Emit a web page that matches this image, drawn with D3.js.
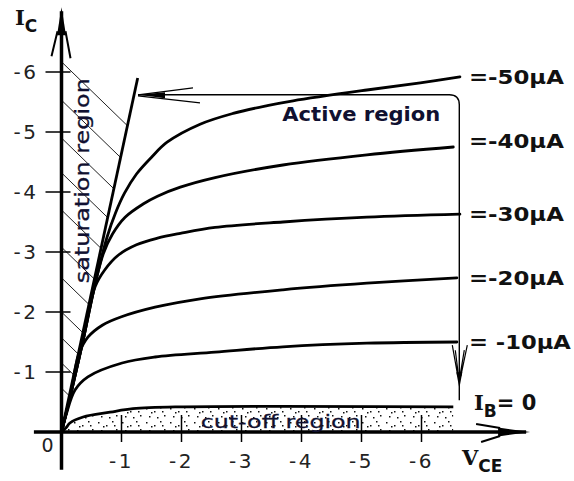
<!DOCTYPE html>
<html>
<head>
<meta charset="utf-8">
<script src="https://cdn.jsdelivr.net/npm/d3@7"></script>
<style>
  body { margin: 0; background: #fff; }
  svg { display: block; font-family: "DejaVu Sans", Verdana, sans-serif; }
</style>
</head>
<body>
<svg id="chart"></svg>
<script>
// PNP transistor output characteristics, IC (mA) against VCE (V)
const vceTicks = [-1, -2, -3, -4, -5, -6];
const icTicks = [-1, -2, -3, -4, -5, -6];

// one curve per base current, points are [VCE, IC]
const ib50 = [[0, 0], [-0.14, -0.57], [-0.36, -1.53], [-0.575, -2.53], [-0.76, -3.25], [-0.9, -3.65],
  [-1.05, -3.98], [-1.25, -4.3], [-1.5, -4.58], [-1.76, -4.83], [-2.31, -5.13], [-2.86, -5.31],
  [-3.43, -5.44], [-3.86, -5.52], [-5.09, -5.7], [-5.98, -5.82], [-6.64, -5.92]];
const ib40 = [[0, 0], [-0.14, -0.57], [-0.36, -1.53], [-0.575, -2.53], [-0.7, -2.98], [-0.85, -3.3],
  [-1.06, -3.58], [-1.36, -3.8], [-1.6, -3.93], [-1.98, -4.08], [-2.56, -4.24], [-3.69, -4.45],
  [-5.09, -4.62], [-6.53, -4.75]];
const ib30 = [[0, 0], [-0.14, -0.57], [-0.36, -1.53], [-0.56, -2.42], [-0.72, -2.7], [-0.95, -2.95],
  [-1.25, -3.12], [-1.6, -3.23], [-1.98, -3.31], [-2.56, -3.41], [-3.69, -3.5], [-5.09, -3.58], [-6.64, -3.63]];
const ib20 = [[0, 0], [-0.14, -0.57], [-0.29, -1.3], [-0.44, -1.58], [-0.68, -1.78], [-1.0, -1.92],
  [-1.56, -2.08], [-2.31, -2.22], [-3.69, -2.37], [-5.09, -2.48], [-6.59, -2.57]];
const ib10 = [[0, 0], [-0.075, -0.28], [-0.225, -0.7], [-0.44, -0.92], [-1.01, -1.15], [-1.56, -1.25],
  [-2.56, -1.33], [-3.69, -1.42], [-5.09, -1.48], [-6.59, -1.5]];
const ib0 = [[0, 0], [-0.075, -0.07], [-0.14, -0.15], [-0.36, -0.25], [-0.81, -0.33], [-1.19, -0.39],
  [-2.03, -0.42], [-6.53, -0.42]];
const ibCurves = [ib50, ib40, ib30, ib20, ib10];
const ibNames = ["=-50\u00b5A", "=-40\u00b5A", "=-30\u00b5A", "=-20\u00b5A", "= -10\u00b5A"];

// saturation boundary and the IC values where its hatching starts on the axis
const saturation = [[0, 0], [-1.27, -5.9]];
const hatchStarts = [-6.17, -5.53, -4.9, -4.32, -3.7, -3.08, -2.57, -2.0, -1.57, -1.15, -0.73];

const width = 574;
const height = 481;

const svg = d3.select("#chart")
  .attr("width", width)
  .attr("height", height);

svg.append("rect").attr("width", width).attr("height", height).attr("fill", "#fff");

const x = d3.scaleLinear().domain([0, -7]).range([61.5, 481.5]);
const y = d3.scaleLinear().domain([0, -7]).range([432, 12]);

const line = d3.line()
  .x(d => x(d[0]))
  .y(d => y(d[1]))
  .curve(d3.curveCatmullRom.alpha(0.5));

// stipple for the cut-off region
const defs = svg.append("defs");
const dots = defs.append("pattern")
  .attr("id", "stipple")
  .attr("patternUnits", "userSpaceOnUse")
  .attr("width", 24).attr("height", 14);
[[2, 2], [10, 5], [16, 1], [20, 9], [5, 10], [13, 11], [7, 6], [18, 5]].forEach(p => {
  dots.append("rect").attr("x", p[0]).attr("y", p[1])
    .attr("width", 1.5).attr("height", 1.5).attr("fill", "#111");
});

const area = d3.area()
  .x(d => x(d[0]))
  .y0(y(0))
  .y1(d => y(d[1]))
  .curve(d3.curveCatmullRom.alpha(0.5));

svg.append("path")
  .datum(ib0)
  .attr("d", area)
  .attr("fill", "url(#stipple)");

// hatching between the IC axis and the saturation line
const satSlope = saturation[1][1] / saturation[1][0];
const hatchSlope = 0.97;
svg.append("g")
  .selectAll("line")
  .data(hatchStarts)
  .enter().append("line")
  .attr("x1", x(0))
  .attr("y1", d => y(d))
  .attr("x2", d => x(d / (satSlope + hatchSlope)))
  .attr("y2", d => y(d - hatchSlope * d / (satSlope + hatchSlope)))
  .attr("stroke", "#222")
  .attr("stroke-width", 1);

// axes
const axisColor = "#000";
const vLo = 0.46, vHi = -7.81, iLo = 0.63, iHi = -7.08;

svg.append("line")
  .attr("x1", x(vLo)).attr("y1", y(0))
  .attr("x2", x(vHi) - 4).attr("y2", y(0))
  .attr("stroke", axisColor).attr("stroke-width", 3.5);
svg.append("line")
  .attr("x1", x(0)).attr("y1", y(iLo))
  .attr("x2", x(0)).attr("y2", y(iHi) + 4)
  .attr("stroke", axisColor).attr("stroke-width", 3.5);

// arrow heads of the axes
const ax = x(vHi), ay = y(0);
svg.append("path")
  .attr("d", `M${ax},${ay}L${ax - 32},${ay - 4.5}L${ax - 32},${ay + 4.5}Z`)
  .attr("fill", axisColor);
svg.append("path")
  .attr("d", `M${ax - 30},${ay - 4}L${ax - 54},${ay - 8}M${ax - 30},${ay + 4}L${ax - 49},${ay + 10}`)
  .attr("stroke", axisColor).attr("stroke-width", 2).attr("fill", "none");

const bx = x(0), by = y(iHi);
svg.append("path")
  .attr("d", `M${bx},${by}L${bx - 4.5},${by + 28}L${bx + 4.5},${by + 28}Z`)
  .attr("fill", axisColor);
svg.append("path")
  .attr("d", `M${bx - 4},${by + 24}L${bx - 10},${by + 49}M${bx + 4},${by + 24}L${bx + 9},${by + 51}`)
  .attr("stroke", axisColor).attr("stroke-width", 2).attr("fill", "none");

// ticks
svg.append("g")
  .selectAll("line")
  .data(icTicks)
  .enter().append("line")
  .attr("x1", x(0) - 16).attr("x2", x(0) + 9)
  .attr("y1", d => y(d)).attr("y2", d => y(d))
  .attr("stroke", axisColor).attr("stroke-width", 1.5);

svg.append("g")
  .selectAll("line")
  .data(vceTicks)
  .enter().append("line")
  .attr("x1", d => x(d)).attr("x2", d => x(d))
  .attr("y1", y(0) - 17).attr("y2", y(0) + 10)
  .attr("stroke", axisColor).attr("stroke-width", 1.5);

const tickFmt = d => "-" + Math.abs(d);

svg.append("g")
  .selectAll("text")
  .data(icTicks)
  .enter().append("text")
  .attr("x", x(0) - 23)
  .attr("y", d => y(d))
  .attr("dy", "0.36em")
  .attr("text-anchor", "end")
  .attr("font-size", 20)
  .attr("fill", "#222")
  .attr("letter-spacing", 2.5)
  .text(tickFmt);

svg.append("g")
  .selectAll("text")
  .data(vceTicks)
  .enter().append("text")
  .attr("x", d => x(d))
  .attr("y", y(0) + 29)
  .attr("dy", "0.36em")
  .attr("text-anchor", "middle")
  .attr("font-size", 20)
  .attr("fill", "#222")
  .attr("letter-spacing", 2.5)
  .text(tickFmt);

svg.append("text")
  .attr("x", x(0) - 8).attr("y", y(0) + 13)
  .attr("dy", "0.36em")
  .attr("text-anchor", "end")
  .attr("font-size", 19)
  .attr("fill", "#222")
  .text("0");

// cut-off boundary
svg.append("path")
  .datum(ib0)
  .attr("d", line)
  .attr("fill", "none")
  .attr("stroke", "#000")
  .attr("stroke-width", 2.8);

svg.append("text")
  .attr("x", x(-2.32)).attr("y", y(-0.18))
  .attr("dy", "0.36em")
  .attr("font-size", 18)
  .attr("fill", "#101030")
  .attr("stroke", "#101030")
  .attr("stroke-width", 0.3)
  .attr("textLength", 160)
  .attr("lengthAdjust", "spacingAndGlyphs")
  .text("cut-off region");

// saturation line
svg.append("path")
  .datum(saturation)
  .attr("d", d3.line().x(d => x(d[0])).y(d => y(d[1])))
  .attr("stroke", "#000")
  .attr("stroke-width", 2.8);

svg.append("text")
  .attr("transform", `translate(${x(-0.35)},${y(-2.48)}) rotate(-90)`)
  .attr("dy", "0.36em")
  .attr("font-size", 19)
  .attr("fill", "#101030")
  .attr("stroke", "#101030")
  .attr("stroke-width", 0.3)
  .attr("textLength", 205)
  .attr("lengthAdjust", "spacingAndGlyphs")
  .text("saturation region");

// IB curves
svg.append("g")
  .selectAll("path")
  .data(ibCurves)
  .enter().append("path")
  .attr("d", line)
  .attr("fill", "none")
  .attr("stroke", "#000")
  .attr("stroke-width", 2.8)
  .attr("stroke-linecap", "round");

svg.append("g")
  .selectAll("text")
  .data(ibCurves)
  .enter().append("text")
  .attr("x", x(-6.79))
  .attr("y", (d, i) => y(d[d.length - 1][1]) - (i === 1 ? 6 : 0))
  .attr("dy", "0.36em")
  .attr("font-size", 20)
  .attr("font-weight", "bold")
  .attr("fill", "#111")
  .attr("textLength", (d, i) => i === 4 ? 102 : 95)
  .attr("lengthAdjust", "spacingAndGlyphs")
  .text((d, i) => ibNames[i]);

// active region pointer: rounded bracket with arrows at both ends
const pL = x(-1.275), pR = x(-6.63), pT = y(-5.62), pB = y(-0.53);
const r = 10;
svg.append("path")
  .attr("d", `M${pL},${pT}H${pR - r}Q${pR},${pT} ${pR},${pT + r}V${pB}`)
  .attr("fill", "none")
  .attr("stroke", "#000")
  .attr("stroke-width", 1.4);

svg.append("path")
  .attr("d", `M${pL},${pT}L${pL + 27},${pT - 2.5}L${pL + 27},${pT + 3.5}Z`)
  .attr("fill", "#000");
svg.append("path")
  .attr("d", `M${pL},${pT}L${pL + 55},${pT - 7}M${pL},${pT + 1}L${pL + 62},${pT + 8}`)
  .attr("fill", "none").attr("stroke", "#000").attr("stroke-width", 1.2);

const tipY = pB - 12;
svg.append("path")
  .attr("d", `M${pR - 3},${tipY - 16}L${pR + 3},${tipY - 16}L${pR},${tipY}Z`)
  .attr("fill", "#000");
svg.append("path")
  .attr("d", `M${pR - 7},${tipY - 43}L${pR - 1.5},${tipY - 12}M${pR + 8},${tipY - 43}L${pR + 1.5},${tipY - 12}` +
    `M${pR - 4},${tipY - 38}L${pR - 1},${tipY - 14}M${pR + 5},${tipY - 38}L${pR + 1},${tipY - 14}`)
  .attr("fill", "none").attr("stroke", "#000").attr("stroke-width", 1.2);

svg.append("text")
  .attr("x", x(-3.68)).attr("y", y(-5.3))
  .attr("dy", "0.36em")
  .attr("font-size", 19)
  .attr("font-weight", "bold")
  .attr("fill", "#101030")
  .attr("textLength", 158)
  .attr("lengthAdjust", "spacingAndGlyphs")
  .text("Active region");

// axis titles
function subLabel(px, py, main, sub, tail) {
  const t = svg.append("text")
    .attr("x", px).attr("y", py)
    .attr("font-size", 21)
    .attr("font-weight", "bold")
    .attr("fill", "#111");
  t.append("tspan").attr("font-family", "DejaVu Serif").text(main);
  t.append("tspan").attr("dy", 7).attr("font-size", 17).text(sub);
  if (tail) t.append("tspan").attr("dy", -7).text(tail);
}

subLabel(15, 25, "I", "C");
subLabel(462, 465, "V", "CE");
subLabel(474, 410, "I", "B", "= 0");
</script>
</body>
</html>
